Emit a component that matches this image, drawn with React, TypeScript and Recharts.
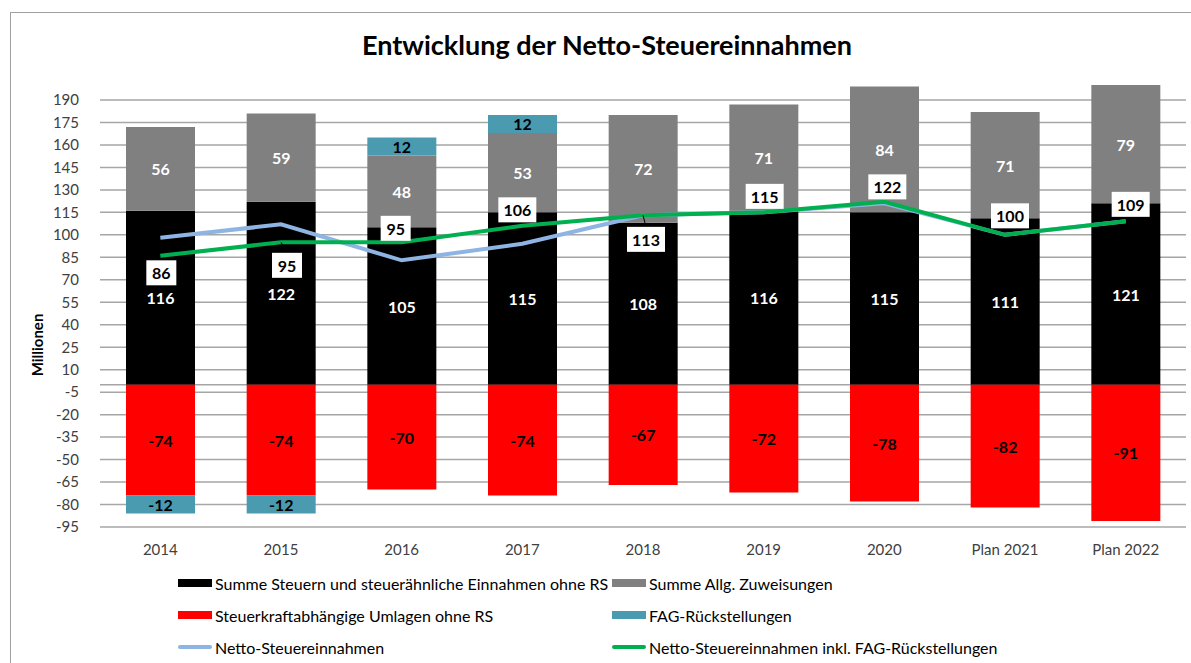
import React from 'react';
import {
  ComposedChart,
  Bar,
  Line,
  XAxis,
  YAxis,
  CartesianGrid,
  LabelList,
} from 'recharts';

const categories = ['2014', '2015', '2016', '2017', '2018', '2019', '2020', 'Plan 2021', 'Plan 2022'];
const steuern = [116, 122, 105, 115, 108, 116, 115, 111, 121];
const zuweisungen = [56, 59, 48, 53, 72, 71, 84, 71, 79];
const umlagen = [-74, -74, -70, -74, -67, -72, -78, -82, -91];
const fagRueck = [-12, -12, 12, 12, null, null, null, null, null];
const netto = [98, 107, 83, 94, 113, 115, 121, 100, 109];
const nettoFag = [86, 95, 95, 106, 113, 115, 122, 100, 109];
const yTicks = [-95, -80, -65, -50, -35, -20, -5, 10, 25, 40, 55, 70, 85, 100, 115, 130, 145, 160, 175, 190];
const gridValues = [...yTicks, 0];

// label box placement for the green line (Excel put some above, some below)
const boxDy = [17, 23, -14, -16, 24, -16, -15, -19, -17];
const boxDx = [1, 6, -6, -5, 3, 1, 3, 5, 5];
// small leader lines from box to point
const leader = [false, true, false, false, true, false, false, false, false];

const FONT = 'Lato, "Open Sans", sans-serif';

const COLORS = {
  steuern: '#000000',
  zuweisungen: '#808080',
  umlagen: '#ff0000',
  fag: '#4a9bb0',
  netto: '#8db4e2',
  nettoFag: '#00b050',
};

const data = categories.map((name, i) => ({
  name,
  steuern: steuern[i],
  zuweisungen: zuweisungen[i],
  umlagen: umlagen[i],
  fag: fagRueck[i],
  netto: netto[i],
  nettoFag: nettoFag[i],
}));

const barLabel = (color: string) => (props: any) => {
  const { x, y, width, height, value } = props;
  if (value === null || value === undefined) return null;
  return (
    <text
      x={x + width / 2}
      y={y + height / 2}
      textAnchor="middle"
      dominantBaseline="central"
      fill={color}
      fontFamily={FONT}
      fontWeight={700}
      fontSize={16}
    >
      {value}
    </text>
  );
};

const BoxLabel = (props: any) => {
  const { x, y, value, index } = props;
  const cx = x + boxDx[index];
  const cy = y + boxDy[index];
  const w = String(value).length > 2 ? 38 : 30;
  const h = 25;
  return (
    <g>
      {leader[index] && (
        <line x1={x} y1={y} x2={cx} y2={cy - h / 2} stroke="#000" strokeWidth={1} />
      )}
      <rect x={cx - w / 2} y={cy - h / 2} width={w} height={h} fill="#ffffff" />
      <text
        x={cx}
        y={cy}
        textAnchor="middle"
        dominantBaseline="central"
        fill="#000000"
        fontFamily={FONT}
        fontWeight={700}
        fontSize={16}
      >
        {value}
      </text>
    </g>
  );
};

const legendItems = [
  { label: 'Summe Steuern und steuerähnliche Einnahmen ohne RS', color: COLORS.steuern, type: 'bar', col: 0, row: 0 },
  { label: 'Summe Allg. Zuweisungen', color: COLORS.zuweisungen, type: 'bar', col: 1, row: 0 },
  { label: 'Steuerkraftabhängige Umlagen ohne RS', color: COLORS.umlagen, type: 'bar', col: 0, row: 1 },
  { label: 'FAG-Rückstellungen', color: COLORS.fag, type: 'bar', col: 1, row: 1 },
  { label: 'Netto-Steuereinnahmen', color: COLORS.netto, type: 'line', col: 0, row: 2 },
  { label: 'Netto-Steuereinnahmen inkl. FAG-Rückstellungen', color: COLORS.nettoFag, type: 'line', col: 1, row: 2 },
];

export default function App() {
  return (
    <div
      style={{
        position: 'absolute',
        left: 0,
        top: 0,
        width: 1191,
        height: 663,
        background: '#ffffff',
        overflow: 'hidden',
        fontFamily: FONT,
      }}
    >
      <div
        style={{
          position: 'absolute',
          left: 10,
          top: 12,
          width: 1200,
          height: 700,
          border: '1px solid #a0a0a0',
        }}
      />
      <div
        style={{
          position: 'absolute',
          left: 0,
          width: 1214,
          top: 28,
          textAlign: 'center',
          fontSize: 27,
          fontWeight: 700,
          color: '#000',
        }}
      >
        Entwicklung der Netto-Steuereinnahmen
      </div>
      <div
        style={{
          position: 'absolute',
          left: 37,
          top: 345,
          transform: 'translate(-50%, -50%) rotate(-90deg)',
          fontSize: 15,
          fontWeight: 700,
          color: '#000',
        }}
      >
        Millionen
      </div>

      <div style={{ position: 'absolute', left: 0, top: 0 }}>
        <ComposedChart
          width={1191}
          height={663}
          data={data}
          stackOffset="sign"
          margin={{ top: 85, right: 5, left: 0, bottom: 106 }}
        >
          <CartesianGrid
            vertical={false}
            horizontalValues={gridValues}
            stroke="#a6a6a6"
            strokeWidth={1.5}
          />
          <XAxis
            dataKey="name"
            axisLine={false}
            tickLine={false}
            height={30}
            tick={{ fill: '#404040', fontSize: 15, fontFamily: FONT }}
            tickMargin={11}
          />
          <YAxis
            width={100}
            domain={[-95, 200]}
            ticks={yTicks}
            interval={0}
            axisLine={false}
            tickLine={false}
            tickMargin={15}
            allowDataOverflow
            tick={{ fill: '#404040', fontSize: 15, fontFamily: FONT }}
          />
          <Bar dataKey="steuern" stackId="a" fill={COLORS.steuern} barSize={69} isAnimationActive={false}>
            <LabelList dataKey="steuern" content={barLabel('#ffffff')} />
          </Bar>
          <Bar dataKey="zuweisungen" stackId="a" fill={COLORS.zuweisungen} barSize={69} isAnimationActive={false}>
            <LabelList dataKey="zuweisungen" content={barLabel('#ffffff')} />
          </Bar>
          <Bar dataKey="umlagen" stackId="a" fill={COLORS.umlagen} barSize={69} isAnimationActive={false}>
            <LabelList dataKey="umlagen" content={barLabel('#000000')} />
          </Bar>
          <Bar dataKey="fag" stackId="a" fill={COLORS.fag} barSize={69} isAnimationActive={false}>
            <LabelList dataKey="fag" content={barLabel('#000000')} />
          </Bar>
          <Line
            dataKey="netto"
            stroke={COLORS.netto}
            strokeWidth={4}
            dot={false}
            type="linear"
            isAnimationActive={false}
          />
          <Line
            dataKey="nettoFag"
            stroke={COLORS.nettoFag}
            strokeWidth={4}
            dot={false}
            type="linear"
            isAnimationActive={false}
          >
            <LabelList dataKey="nettoFag" content={BoxLabel} />
          </Line>
        </ComposedChart>
      </div>

      {legendItems.map((item) => {
        const left = item.col === 0 ? 178 : 612;
        const top = 583 + item.row * 32;
        return (
          <div
            key={item.label}
            style={{
              position: 'absolute',
              left,
              top: top - 12,
              height: 24,
              display: 'flex',
              alignItems: 'center',
              whiteSpace: 'nowrap',
              fontSize: 16,
              color: '#000',
            }}
          >
            <span
              style={{
                display: 'inline-block',
                width: 34,
                height: item.type === 'bar' ? 8 : 4,
                borderRadius: item.type === 'bar' ? 0 : 2,
                background: item.color,
                marginRight: 3,
              }}
            />
            {item.label}
          </div>
        );
      })}
    </div>
  );
}
